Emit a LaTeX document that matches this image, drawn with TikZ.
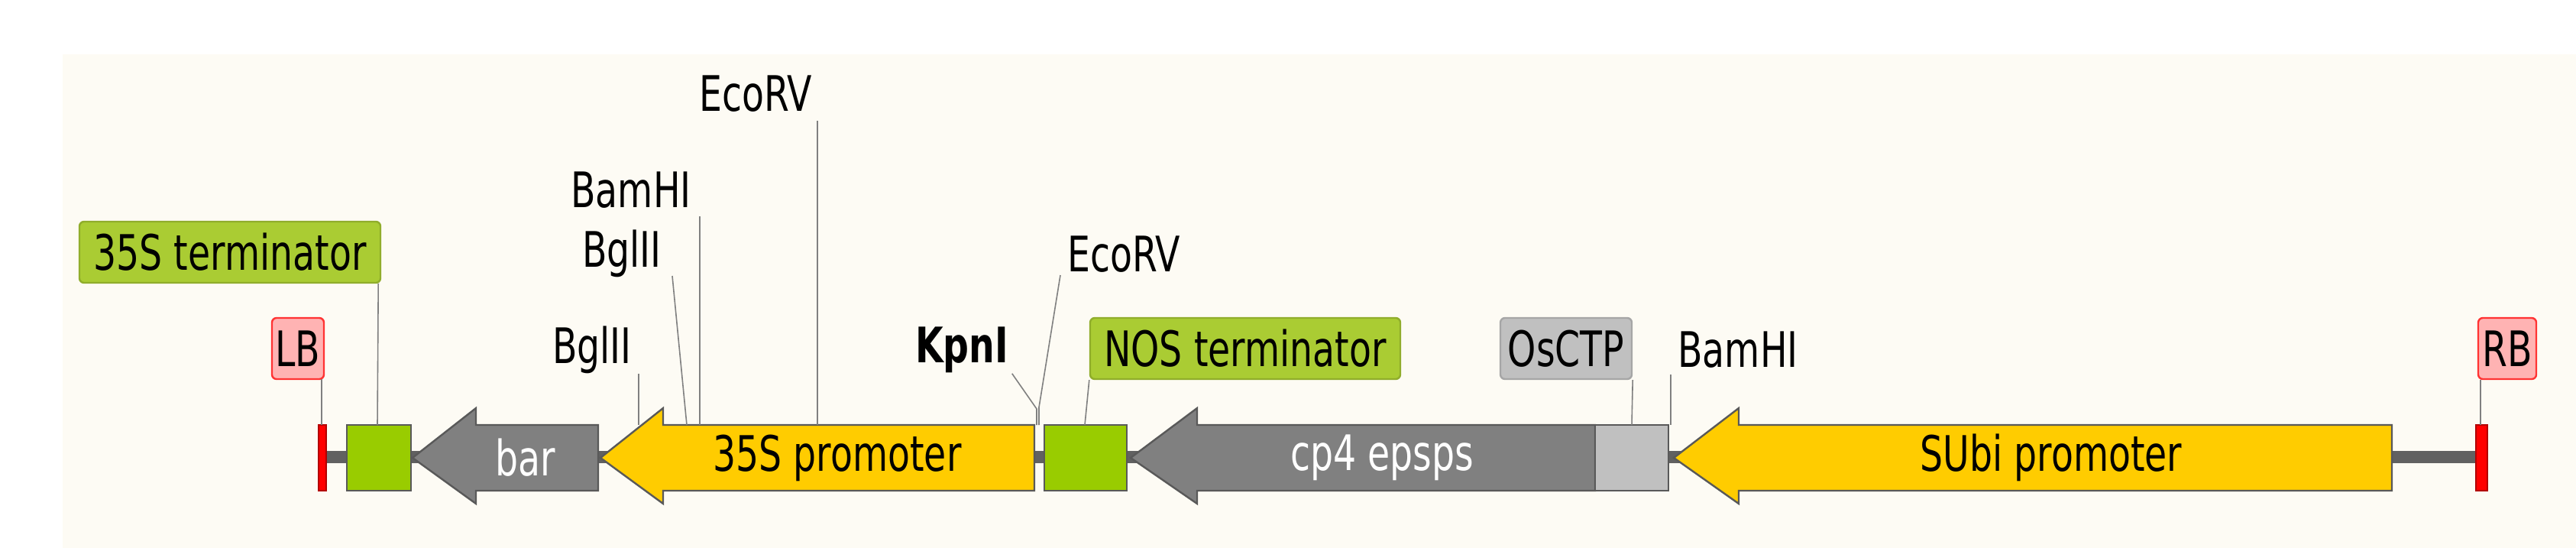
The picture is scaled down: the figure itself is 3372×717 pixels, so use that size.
\documentclass[tikz,border=0pt]{standalone}
\usepackage{fontspec}
\setmainfont{DejaVu Sans}[FakeStretch=0.74]
\definecolor{cream}{HTML}{FDFBF4}
\definecolor{prom}{HTML}{FFCC00}
\definecolor{term}{HTML}{99CC00}
\definecolor{termtag}{HTML}{AACC33}
\definecolor{cds}{HTML}{808080}
\definecolor{ctp}{HTML}{C0C0C0}
\definecolor{bordtag}{HTML}{FFB3B3}
\tikzset{
  feat/.style={draw=black!65, line width=0.6pt},
  site/.style={inner sep=0pt, font=\fontsize{16}{18}\selectfont},
  tag/.style={site, rounded corners=1.5pt, minimum height=20pt, line width=0.6pt},
  pin/.style={draw=black!50, line width=0.4pt}
}
\newcommand{\leftarrowfeat}[5]{% fill, tip, head back, end
  \draw[feat, fill=#1] (#4,556) -- (#3,556) -- (#3,534) -- (#2,599) -- (#3,659) -- (#3,642) -- (#4,642) -- cycle;
}
\begin{document}
\begin{tikzpicture}[x=0.25pt, y=-0.25pt]
  \useasboundingbox (0,0) rectangle (3372,717);
  \fill[cream] (82,71) rectangle (3372,717);
  % backbone
  \draw[line width=4pt, black!62] (427,598) -- (3241,598);
  % features
  \draw[feat, fill=red, draw=red!70!black] (417,556) rectangle (427,642);
  \draw[feat, fill=term] (454,556) rectangle (538,642);
  \leftarrowfeat{cds}{540}{623}{783}{}
  \leftarrowfeat{prom}{786}{868}{1354}{}
  \draw[feat, fill=term] (1367,556) rectangle (1475,642);
  \leftarrowfeat{cds}{1480}{1567}{2088}{}
  \draw[feat, fill=ctp] (2088,556) rectangle (2184,642);
  \leftarrowfeat{prom}{2191}{2276}{3131}{}
  \draw[feat, fill=red, draw=red!70!black] (3241,556) rectangle (3256,642);
  \node[site, text=white] (bar) at (688,599) {bar};
  \node[site] (p35s) at (1096,599) {35S promoter};
  \node[site, text=white] (cp4) at (1809,599) {cp4 epsps};
  \node[site] (subi) at (2685,599) {SUbi promoter};
  % labels
  \node[tag, draw=red!80, fill=bordtag, minimum width=17pt] (lb) at (390,456) {LB};
  \node[tag, draw=termtag!85!black, fill=termtag, minimum width=98.5pt] (t35s) at (301,330) {35S terminator};
  \node[site] (bgl1) at (775,458) {BglII};
  \node[site] (bgl2) at (814,332) {BglII};
  \node[site] (bam1) at (826,249) {BamHI};
  \node[site] (eco1) at (989,123) {EcoRV};
  \node[site, font=\fontsize{16}{18}\selectfont\bfseries] (kpn) at (1259,458) {KpnI};
  \node[site] (eco2) at (1471,333) {EcoRV};
  \node[tag, draw=termtag!85!black, fill=termtag, minimum width=101.5pt] (tnos) at (1630,456) {NOS terminator};
  \node[tag, draw=black!35, fill=ctp, minimum width=43pt] (osctp) at (2050,456) {OsCTP};
  \node[site] (bam2) at (2275,458) {BamHI};
  \node[tag, draw=red!80, fill=bordtag, minimum width=19pt] (rb) at (3282,456) {RB};
  % pins
  \coordinate (kpnbend) at (1357,535);
  \coordinate (ecobend) at (1360,533);
  \begin{scope}[pin]
    \draw (421,496) -- (421,556);
    \draw (t35s.south east) ++(-4,0) -- (494,556);
    \draw (836,489) -- (836,556);
    \draw (880,361) -- (899,556);
    \draw (916,283) -- (916,556);
    \draw (1070,158) -- (1070,556);
    \draw (kpn.south east) ++(4,0) -- (kpnbend) -- (1357,556);
    \draw (1388,360) -- (ecobend) -- (1360,556);
    \draw (tnos.south west) -- (1420,556);
    \draw (osctp.south east) -- (2136,556);
    \draw (2187,490) -- (2187,556);
    \draw (3247,497) -- (3247,556);
  \end{scope}
\end{tikzpicture}
\end{document}
